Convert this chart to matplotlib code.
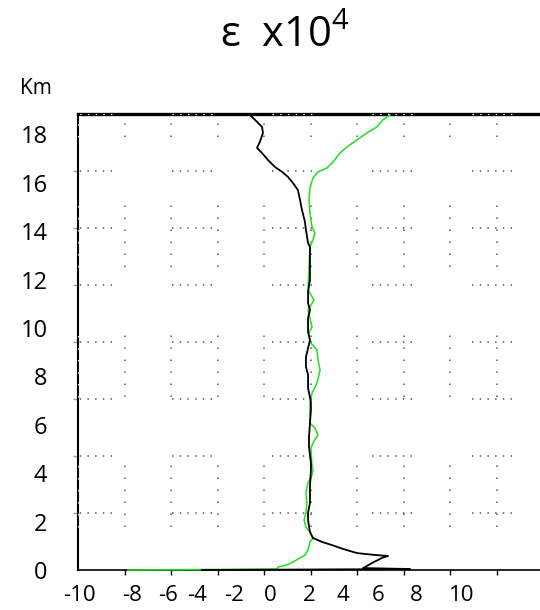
import matplotlib.pyplot as plt

plt.rcParams['font.family'] = ['Open Sans', 'DejaVu Sans']
plt.rcParams['mathtext.fontset'] = 'custom'
plt.rcParams['mathtext.rm'] = 'Open Sans'
plt.rcParams['mathtext.it'] = 'Open Sans:italic'
plt.rcParams['lines.scale_dashes'] = False

# profiles: epsilon (x1e4) against height in km
height_black = [18.80, 18.60, 18.31, 18.06, 17.69, 17.44, 17.23, 16.94, 16.65,
                16.45, 16.24, 15.99, 15.70, 15.29, 14.88, 14.38, 14.05, 13.51,
                13.35, 11.98, 11.49, 11.03, 10.74, 10.41, 9.83, 9.50, 8.80,
                8.39, 8.06, 7.52, 6.94, 6.61, 5.50, 5.08, 4.42, 4.13, 3.43,
                2.77, 2.36, 2.07, 1.57, 1.32, 1.16, 1.03, 0.87, 0.70, 0.62,
                0.58, 0.50, 0.29, 0.17, 0.08, 0.04, 0.0]
eps_black = [-1.10, -0.84, -0.47, -0.42, -0.58, -0.73, -0.47, -0.16, 0.21,
             0.58, 0.89, 1.15, 1.41, 1.52, 1.62, 1.78, 1.83, 1.94,
             2.04, 2.04, 1.94, 1.94, 2.04, 1.94, 1.94, 2.04, 1.83,
             1.83, 1.94, 1.94, 2.09, 2.09, 1.99, 1.99, 2.09, 2.09, 2.04,
             2.04, 1.94, 1.94, 2.04, 2.20, 2.67, 3.19, 3.77, 4.50, 5.45,
             6.13, 5.81, 5.29, 5.03, 4.82, 7.28, -3.61]

height_green = [18.80, 18.60, 18.31, 18.06, 17.77, 17.48, 17.23, 16.86, 16.61,
                16.45, 16.20, 15.79, 15.29, 14.75, 14.17, 13.93, 13.64, 13.35,
                12.52, 11.57, 11.16, 10.74, 10.04, 9.79, 9.42, 9.09, 8.68,
                8.26, 7.73, 7.31, 6.90, 6.07, 5.87, 5.58, 5.25, 5.04, 4.26,
                4.13, 3.93, 3.60, 3.18, 2.77, 2.36, 2.07, 1.78, 1.57, 1.32,
                1.16, 0.83, 0.62, 0.50, 0.33, 0.21, 0.12, 0.04, 0.0]
eps_green = [6.23, 5.86, 5.55, 5.03, 4.50, 3.98, 3.61, 3.25, 2.93,
             2.46, 2.20, 2.04, 1.99, 2.04, 2.15, 2.30, 2.20, 2.04,
             1.99, 1.94, 2.25, 1.94, 2.15, 1.99, 2.04, 2.41, 2.46,
             2.57, 2.41, 2.15, 2.04, 2.04, 2.30, 2.46, 2.20, 2.09, 2.15,
             2.20, 2.15, 1.94, 1.83, 1.88, 1.83, 1.73, 1.83, 2.04, 2.20,
             2.04, 1.94, 1.78, 1.52, 1.15, 0.84, 0.37, 0.31, -7.49]

x_labels = ['-10', '-8', '-6', '-4', '-2', '0', '2', '4', '6', '8', '10']
y_labels = ['0', '2', '4', '6', '8', '10', '12', '14', '16', '18']

# where the x labels sit along the axis (data units)
x_label_pos = [-10.0, -7.28, -5.39, -3.87, -1.94, -0.05, 2.02, 3.77, 5.6, 7.59, 10.0]
y_label_pos = [0, 2, 4, 6, 8, 10, 12, 14, 16, 18]

XMIN, XMAX = -10.1, 14.08
YMIN, YMAX = 0.0, 18.84
TICK_STEP = 2.435
x_marks = [XMIN + TICK_STEP * k for k in range(1, 10)]
n_rows = 8
y_rows = [YMAX * k / n_rows for k in range(1, n_rows)]

px = 0.72  # points per pixel at dpi 100

fig = plt.figure(figsize=(5.4, 6.1), dpi=100)
ax = fig.add_axes([78 / 540, 1 - 570 / 610, (540 - 78) / 540, (570 - 114) / 610])
ax.set_xlim(XMIN, XMAX)
ax.set_ylim(YMIN, YMAX)

# dotted grid, drawn in groups of dots
vdots = (87 * px, [1.5 * px, 10.5 * px] * 5 + [1.5 * px, 68.5 * px])
hdots = (6 * px, [1.5 * px, 6.2 * px] * 5 + [1.5 * px, 60.0 * px])
for xm in x_marks:
    ax.axvline(xm, color='#7a7a7a', lw=1.4, linestyle=vdots, dash_capstyle='butt', zorder=1)
for yr in y_rows:
    ax.axhline(yr, color='#7a7a7a', lw=1.4, linestyle=hdots, dash_capstyle='butt', zorder=1)

ax.plot(eps_green, height_green, color='#1ee01e', lw=1.1, zorder=3, clip_on=False)
ax.plot(eps_black, height_black, color='black', lw=1.3, zorder=4, clip_on=False)

ax.spines['right'].set_visible(False)
ax.spines['left'].set_linewidth(1.5)
ax.spines['bottom'].set_linewidth(1.2)
ax.spines['top'].set_linewidth(2.4)

# white breaks running through the frame lines
ax.axhline(YMAX, color='white', lw=0.8, linestyle=hdots, dash_capstyle='butt', zorder=5, clip_on=False)
ax.axvline(XMIN, color='white', lw=0.6, linestyle=vdots, dash_capstyle='butt', zorder=5, clip_on=False)

ax.set_xticks(x_label_pos)
ax.set_xticklabels(x_labels)
ax.set_xticks(x_marks, minor=True)
ax.set_yticks(y_label_pos)
ax.set_yticklabels(y_labels)
ax.set_yticks(y_rows, minor=True)
ax.tick_params(axis='x', which='major', length=0, pad=11, labelsize=16)
ax.tick_params(axis='x', which='minor', length=3.5, width=1.0, color='black', direction='out')
ax.tick_params(axis='y', which='major', length=0, pad=22, labelsize=17)
ax.tick_params(axis='y', which='minor', length=3.5, width=1.0, color='#999999', direction='out')

fig.text(36 / 540, 1 - 88 / 610, 'Km', fontsize=15, ha='center', va='center')
fig.text(285 / 540, 1 - 36 / 610, r'ε  x10$^{4}$', fontsize=30, ha='center', va='center')

fig.savefig('out.png', dpi=100)
